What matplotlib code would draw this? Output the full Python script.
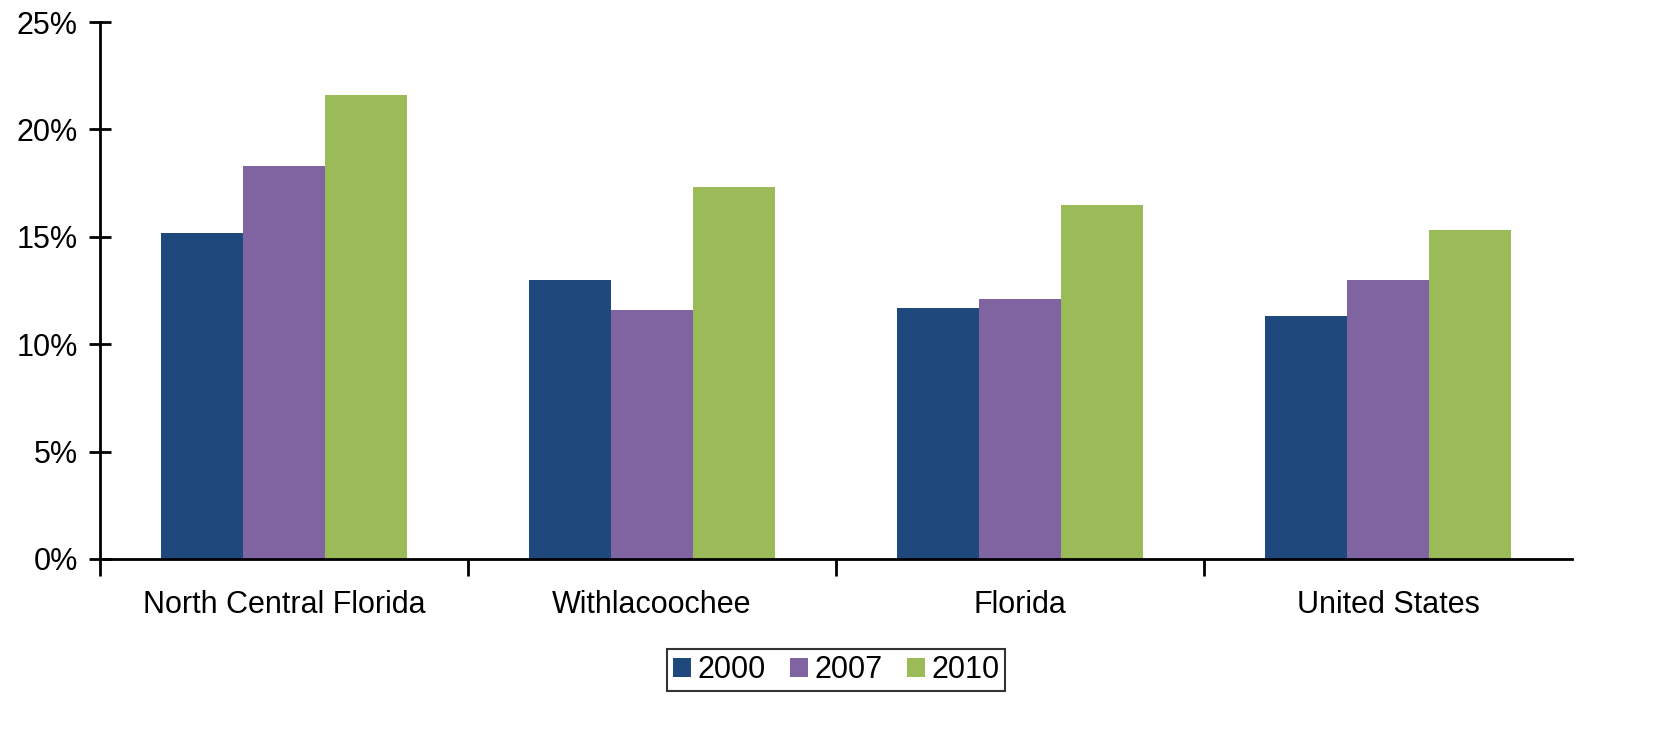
import numpy as np
import matplotlib.pyplot as plt
from matplotlib.ticker import FuncFormatter

plt.rcParams['font.family'] = ['Liberation Sans', 'DejaVu Sans']

categories = ['North Central Florida', 'Withlacoochee', 'Florida', 'United States']
years = ['2000', '2007', '2010']
v2000 = [15.2, 13.0, 11.7, 11.3]
v2007 = [18.3, 11.6, 12.1, 13.0]
v2010 = [21.6, 17.3, 16.5, 15.3]
colors = ['#1F497D', '#8064A2', '#9BBB59']

fig = plt.figure(figsize=(16.77, 7.39), dpi=100)
ax = fig.add_axes([100 / 1677, 1 - 559 / 739, 1472 / 1677, 537 / 739])

x = np.arange(len(categories))
w = 0.222
for i, (vals, yr) in enumerate(zip([v2000, v2007, v2010], years)):
    ax.bar(x + (i - 1) * w, vals, width=w, color=colors[i], label=yr)

ax.set_xlim(-0.5, len(categories) - 0.5)
ax.set_ylim(0, 25)
ax.set_yticks([0, 5, 10, 15, 20, 25])
ax.yaxis.set_major_formatter(FuncFormatter(lambda v, p: f'{v:.0f}%'))
ax.set_xticks(x)
ax.set_xticklabels(categories)
# category separators, none at the right end
ax.set_xticks(np.arange(-0.5, len(categories) - 1, 1), minor=True)

for s in ['top', 'right']:
    ax.spines[s].set_visible(False)
ax.spines['left'].set_linewidth(2)
ax.spines['bottom'].set_linewidth(2)

ax.tick_params(axis='y', direction='inout', length=16, width=2, labelsize=22, pad=8)
ax.tick_params(axis='x', which='major', length=0, labelsize=22, pad=22)
ax.tick_params(axis='x', which='minor', direction='out', length=12, width=2)

leg = ax.legend(loc='upper center', bbox_to_anchor=(0.5, -0.168), ncol=3,
                fontsize=22, frameon=True, fancybox=False, edgecolor='black',
                handlelength=0.6, handleheight=0.6, handletextpad=0.2,
                columnspacing=0.8, borderpad=0.2, borderaxespad=0)
leg.get_frame().set_linewidth(1.5)

fig.savefig('out.png', dpi=100)
